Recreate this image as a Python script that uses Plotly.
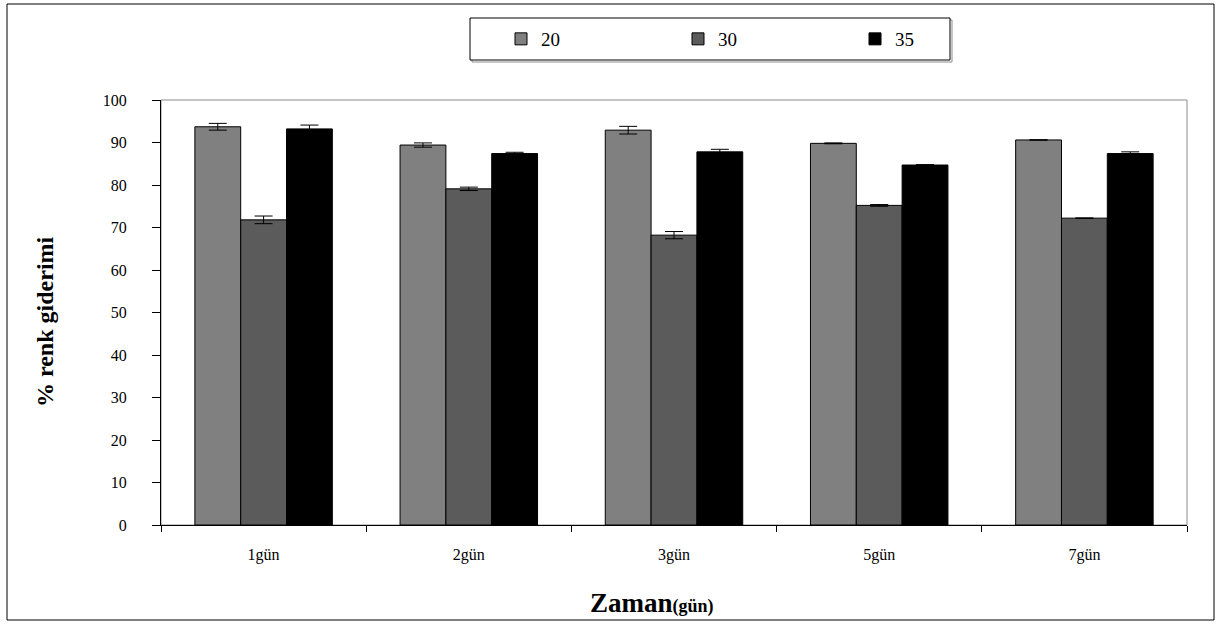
import plotly.graph_objects as go

categories = ["1gün", "2gün", "3gün", "5gün", "7gün"]
series_names = ["20", "30", "35"]
values_20 = [93.7, 89.4, 92.9, 89.8, 90.6]
values_30 = [71.8, 79.1, 68.2, 75.2, 72.2]
values_35 = [93.2, 87.4, 87.8, 84.7, 87.4]
err_20 = [0.8, 0.5, 0.9, 0.1, 0.05]
err_30 = [0.9, 0.4, 0.85, 0.2, 0.05]
err_35 = [0.9, 0.3, 0.6, 0.1, 0.4]
colors = ["#808080", "#5b5b5b", "#000000"]
y_ticks = [0, 10, 20, 30, 40, 50, 60, 70, 80, 90, 100]

W, H = 1221, 624
L, R, T, B = 161, 1187, 100, 525
pw, ph = R - L, B - T

def px(x):
    return (x - L) / pw

def py(y):
    return (B - y) / ph

FONT = "Liberation Serif"

fig = go.Figure()
for name, vals, errs, col in zip(series_names, [values_20, values_30, values_35],
                                 [err_20, err_30, err_35], colors):
    fig.add_trace(go.Bar(
        name=name, x=categories, y=vals,
        marker=dict(color=col, line=dict(color="#000000", width=1)),
        error_y=dict(type="data", array=errs, visible=True, color="#000000",
                     thickness=1, width=9),
    ))

fig.update_layout(
    width=W, height=H,
    margin=dict(l=L, r=W - R, t=T, b=H - B, pad=0),
    paper_bgcolor="white", plot_bgcolor="white",
    barmode="group", bargap=0.33, bargroupgap=0,
    font=dict(family=FONT, size=16, color="#000000"),
    showlegend=True,
    legend=dict(orientation="h", x=px(501), y=py(39), xanchor="left", yanchor="middle",
                font=dict(family=FONT, size=19, color="#000000"),
                entrywidth=132, entrywidthmode="pixels",
                bgcolor="rgba(0,0,0,0)", borderwidth=0, itemclick=False),
    xaxis=dict(type="category", showline=True, linecolor="#000000", linewidth=1,
               ticks="outside", tickson="boundaries", ticklen=6, tickcolor="#000000",
               ticklabelstandoff=15, showgrid=False, zeroline=False,
               tickfont=dict(family=FONT, size=16)),
    yaxis=dict(range=[0, 100], tickvals=y_ticks, showline=True, linecolor="#000000",
               linewidth=1, ticks="outside", ticklen=8, tickcolor="#000000",
               ticklabelstandoff=22, showgrid=False, zeroline=False,
               tickfont=dict(family=FONT, size=16)),
    shapes=[
        dict(type="rect", xref="paper", yref="paper",
             x0=px(7), x1=px(1214), y0=py(620), y1=py(4),
             line=dict(color="#000000", width=1), layer="below"),
        dict(type="rect", xref="paper", yref="paper",
             x0=0, x1=1, y0=0, y1=1,
             line=dict(color="#8c8c8c", width=1), layer="below"),
        dict(type="rect", xref="paper", yref="paper",
             x0=px(472), x1=px(952), y0=py(62), y1=py(20),
             line=dict(color="#8c8c8c", width=1), layer="below"),
        dict(type="rect", xref="paper", yref="paper",
             x0=px(470), x1=px(950), y0=py(60), y1=py(18),
             line=dict(color="#000000", width=1), fillcolor="white", layer="below"),
    ],
    annotations=[
        dict(text="<b>Zaman<span style='font-size:18px'>(gün)</span></b>",
             xref="paper", yref="paper", x=px(652), y=py(603),
             xanchor="center", yanchor="middle", showarrow=False,
             font=dict(family=FONT, size=27, color="#000000")),
        dict(text="<b>% renk giderimi</b>",
             xref="paper", yref="paper", x=px(45), y=py(322),
             xanchor="center", yanchor="middle", showarrow=False, textangle=-90,
             font=dict(family=FONT, size=24, color="#000000")),
    ],
)

fig.write_html("out.html", config={"displayModeBar": False},
               post_script="document.body.style.margin='0';")
